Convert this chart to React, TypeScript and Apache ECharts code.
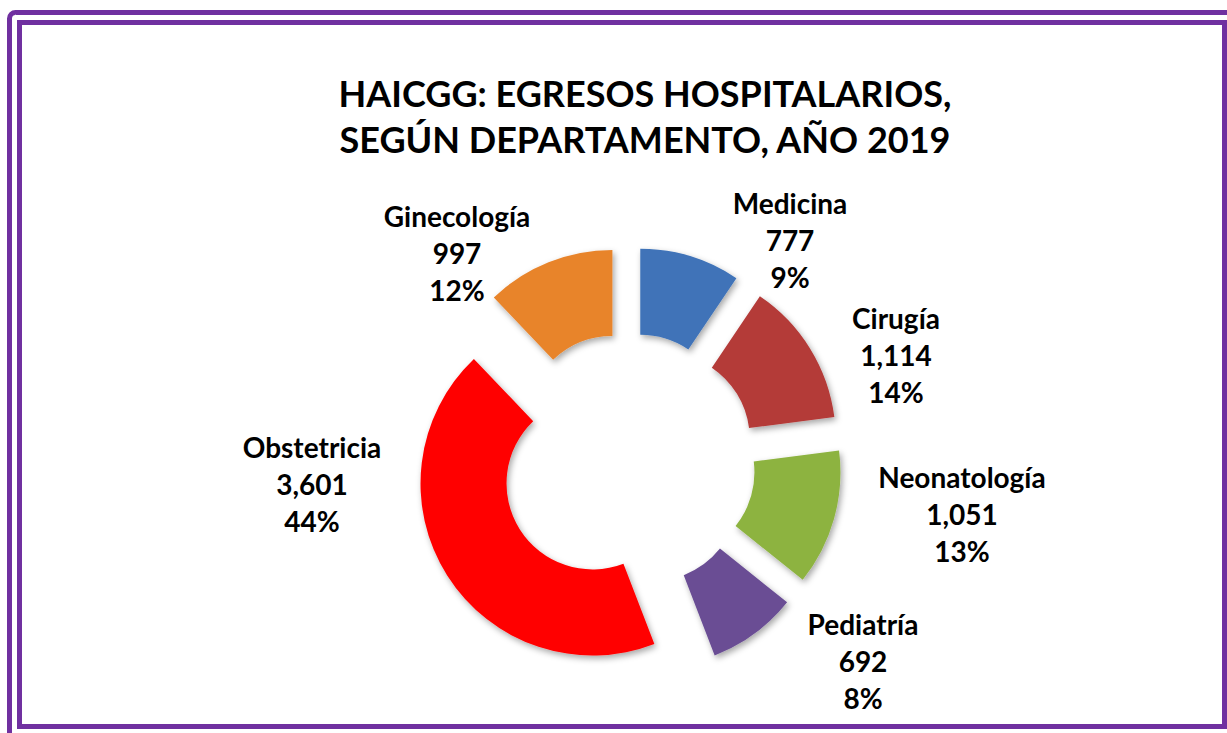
import React, { useEffect, useRef } from "react";
import * as echarts from "echarts";

const titleLines = ["HAICGG: EGRESOS HOSPITALARIOS,", "SEGÚN DEPARTAMENTO, AÑO 2019"];
const categories = ["Medicina", "Cirugía", "Neonatología", "Pediatría", "Obstetricia", "Ginecología"];
const values = [777, 1114, 1051, 692, 3601, 997];
const colors = ["#3F73B8", "#B43A38", "#8DB340", "#6A4E94", "#FF0000", "#E8842C"];
// label block centres (layout only)
const labelPos: [number, number][] = [
  [790, 240],
  [896, 355],
  [962, 514],
  [863, 661],
  [312, 484],
  [457, 253],
];

export default function App() {
  const ref = useRef<HTMLDivElement>(null);
  useEffect(() => {
    if (!ref.current) return;
    const chart = echarts.init(ref.current, null, { renderer: "svg" });
    const font = "Lato, 'Open Sans', sans-serif";
    const total = values.reduce((a, b) => a + b, 0);
    const labels = categories.map((name, i) => ({
      type: "text",
      x: labelPos[i][0],
      y: labelPos[i][1],
      silent: true,
      style: {
        text: `${name}\n${values[i].toLocaleString("en-US")}\n${Math.round((values[i] / total) * 100)}%`,
        fontFamily: font,
        fontWeight: "bold",
        fontSize: 28,
        lineHeight: 37,
        fill: "#000000",
        align: "center",
        verticalAlign: "middle",
      },
    }));
    chart.setOption({
      animation: false,
      backgroundColor: "#ffffff",
      title: {
        text: titleLines.join("\n"),
        left: 640,
        top: 65,
        textAlign: "center",
        textStyle: {
          fontFamily: font,
          fontWeight: "bold",
          fontSize: 36,
          lineHeight: 46,
          color: "#000000",
        },
      },
      graphic: [
        {
          type: "rect",
          shape: { x: 9.5, y: 12.5, width: 1240, height: 740, r: 6 },
          style: { fill: "none", stroke: "#7030A0", lineWidth: 5 },
          silent: true,
        },
        {
          type: "rect",
          shape: { x: 19.5, y: 22.5, width: 1205, height: 704 },
          style: { fill: "none", stroke: "#7030A0", lineWidth: 5 },
          silent: true,
        },
        ...labels,
      ],
      series: [
        {
          type: "pie",
          center: [628, 461],
          radius: [86, 172],
          startAngle: 90,
          clockwise: true,
          selectedMode: "multiple",
          selectedOffset: 42,
          avoidLabelOverlap: false,
          emphasis: { disabled: true },
          itemStyle: {
            shadowBlur: 6,
            shadowColor: "rgba(0,0,0,0.35)",
            shadowOffsetX: 2,
            shadowOffsetY: 3,
          },
          label: { show: false },
          labelLine: { show: false },
          data: categories.map((name, i) => ({
            name,
            value: values[i],
            selected: true,
            itemStyle: { color: colors[i] },
          })),
        },
      ],
    });
    return () => chart.dispose();
  }, []);
  return (
    <div
      ref={ref}
      style={{ position: "fixed", left: 0, top: 0, width: 1227, height: 733 }}
    />
  );
}
